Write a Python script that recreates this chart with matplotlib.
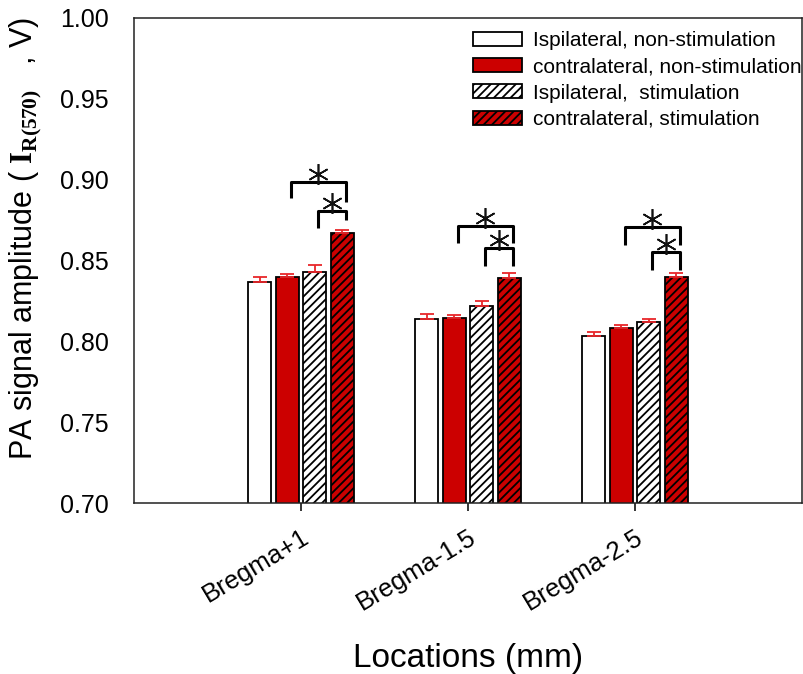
import numpy as np
import matplotlib
matplotlib.use('Agg')
import matplotlib.pyplot as plt

plt.rcParams['font.family'] = ['Liberation Sans', 'DejaVu Sans']
plt.rcParams['mathtext.fontset'] = 'custom'
plt.rcParams['mathtext.rm'] = 'Liberation Sans'
plt.rcParams['mathtext.bf'] = 'Liberation Serif:bold'
plt.rcParams['hatch.linewidth'] = 1.3

locations = ['Bregma+1', 'Bregma-1.5', 'Bregma-2.5']
series_labels = ['Ispilateral, non-stimulation', 'contralateral, non-stimulation',
                 'Ispilateral,  stimulation', 'contralateral, stimulation']

ipsi_non = [0.837, 0.814, 0.8035]
contra_non = [0.840, 0.8145, 0.8085]
ipsi_stim = [0.843, 0.822, 0.812]
contra_stim = [0.867, 0.839, 0.840]

ipsi_non_err = [0.003, 0.003, 0.002]
contra_non_err = [0.0015, 0.002, 0.0016]
ipsi_stim_err = [0.004, 0.003, 0.0016]
contra_stim_err = [0.002, 0.003, 0.0025]

# significance brackets: (group, left bar, right bar, top, left leg end, right leg end)
brackets = [
    (0, 1, 3, 0.8986, 0.8887, 0.8860),
    (0, 2, 3, 0.8808, 0.8700, 0.8750),
    (1, 1, 3, 0.8713, 0.8610, 0.8610),
    (1, 2, 3, 0.8575, 0.8466, 0.8466),
    (2, 1, 3, 0.8705, 0.8596, 0.8596),
    (2, 2, 3, 0.8550, 0.8440, 0.8440),
]

values = [ipsi_non, contra_non, ipsi_stim, contra_stim]
errors = [ipsi_non_err, contra_non_err, ipsi_stim_err, contra_stim_err]
faces = ['white', '#cc0000', 'white', '#cc0000']
hatches = [None, None, '////', '////']

fig = plt.figure(figsize=(8.04, 6.74), dpi=100)
ax = fig.add_axes([0.1667, 0.2537, 0.8308, 0.7196])

x = np.arange(1, len(locations) + 1)
width = 0.138
step = 0.165
offsets = (np.arange(4) - 1.5) * step

for k in range(4):
    ax.bar(x + offsets[k], values[k], width, bottom=0, color=faces[k],
           edgecolor='black', linewidth=1.3, hatch=hatches[k],
           label=series_labels[k], zorder=2)
    ax.errorbar(x + offsets[k], values[k],
                yerr=[np.zeros(3), errors[k]], fmt='none',
                ecolor='#e8262a', elinewidth=1.3, capsize=4.7, capthick=1.3,
                zorder=3)

for g, i, j, top, yl, yr in brackets:
    xl = x[g] + offsets[i] + 0.02
    xr = x[g] + offsets[j] + 0.02
    ax.plot([xl, xl, xr, xr], [yl, top, top, yr], color='black', lw=2.2,
            solid_capstyle='butt', zorder=4)
    ax.plot((xl + xr) / 2, top + 0.005, marker=(6, 2, 0), ms=15,
            mew=1.2, color='#111111', zorder=5)

ax.set_xlim(0, 4)
ax.set_ylim(0.70, 1.00)
ax.set_yticks(np.arange(0.70, 1.001, 0.05))
ax.set_yticklabels(['%.2f' % v for v in np.arange(0.70, 1.001, 0.05)])
ax.set_xticks(x)
ax.set_xticklabels(locations, rotation=31, ha='right', rotation_mode='anchor')
ax.tick_params(axis='y', length=0, pad=18, labelsize=18)
ax.tick_params(axis='x', length=6, width=1.1, pad=10, labelsize=18.5)
for s in ax.spines.values():
    s.set_linewidth(1.1)
    s.set_color('#222222')

ax.set_xlabel('Locations (mm)', fontsize=24, labelpad=20)
ax.set_ylabel(r'PA signal amplitude ( $\mathbf{I}_{\mathbf{R(570)}}\;\;\;$, V)', fontsize=22)
ax.yaxis.set_label_coords(-0.135, 0.545)

ax.legend(loc='upper left', bbox_to_anchor=(0.5075, 0.973), frameon=False,
          fontsize=15, handlelength=2.35, handleheight=0.67, handletextpad=0.53,
          labelspacing=0.35, borderpad=0, borderaxespad=0)

fig.savefig('out.png', dpi=100)
